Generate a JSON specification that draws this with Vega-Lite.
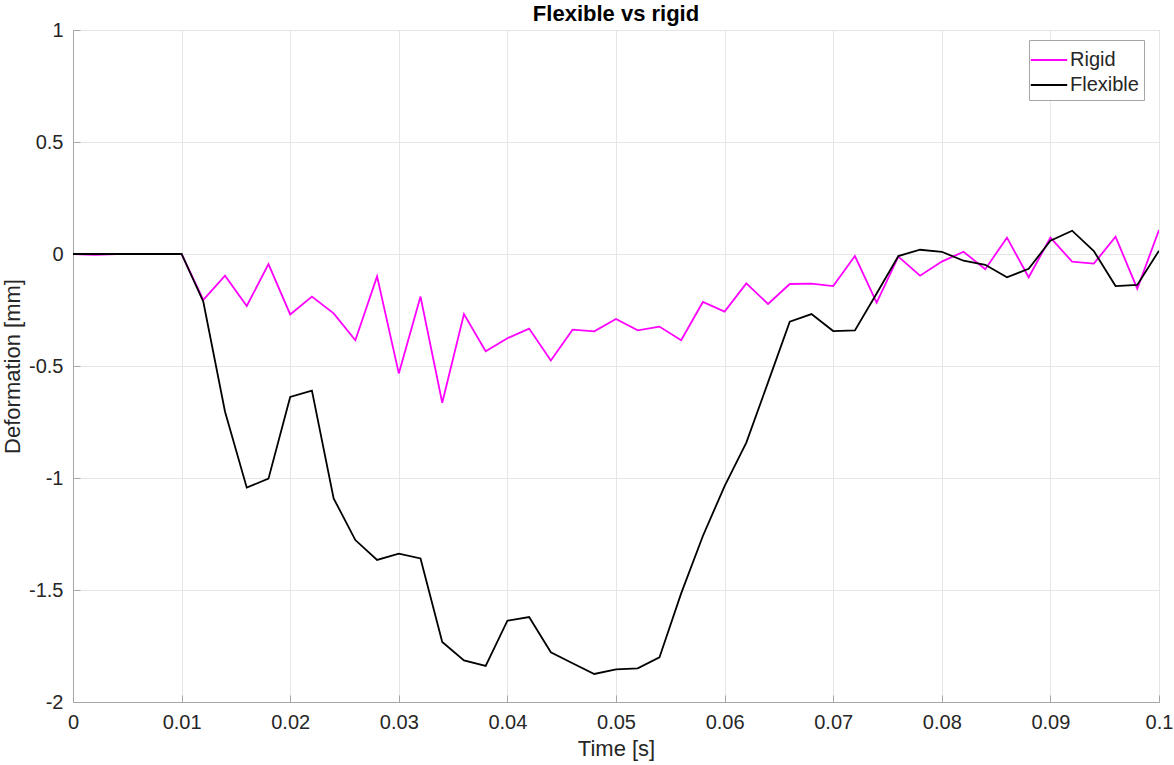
{
  "$schema": "https://vega.github.io/schema/vega-lite/v6.json",
  "width": 1086,
  "height": 672,
  "autosize": "none",
  "padding": {"left": 73, "top": 30, "right": 15, "bottom": 63},
  "background": "white",
  "config": {
    "font": "Liberation Sans",
    "view": {"stroke": "#a6a6a6", "strokeWidth": 1},
    "axis": {
      "domainColor": "#a6a6a6",
      "domainWidth": 1,
      "gridColor": "#e6e6e6",
      "gridWidth": 1,
      "tickColor": "#a6a6a6",
      "labelColor": "#262626",
      "titleColor": "#262626",
      "labelFontSize": 20,
      "titleFontSize": 22,
      "titleFontWeight": "normal",
      "labelFont": "Liberation Sans",
      "titleFont": "Liberation Sans"
    }
  },
  "title": {
    "text": "Flexible vs rigid",
    "fontSize": 22,
    "fontWeight": "bold",
    "font": "Liberation Sans",
    "color": "#000000",
    "anchor": "middle",
    "offset": -6
  },
  "data": {
    "values": [
      {"t": 0.000, "series": "Rigid", "value": 0},
      {"t": 0.002, "series": "Rigid", "value": -0.004},
      {"t": 0.004, "series": "Rigid", "value": 0},
      {"t": 0.006, "series": "Rigid", "value": 0},
      {"t": 0.008, "series": "Rigid", "value": 0},
      {"t": 0.010, "series": "Rigid", "value": 0},
      {"t": 0.012, "series": "Rigid", "value": -0.205},
      {"t": 0.014, "series": "Rigid", "value": -0.097},
      {"t": 0.016, "series": "Rigid", "value": -0.232},
      {"t": 0.018, "series": "Rigid", "value": -0.045},
      {"t": 0.020, "series": "Rigid", "value": -0.27},
      {"t": 0.022, "series": "Rigid", "value": -0.19},
      {"t": 0.024, "series": "Rigid", "value": -0.265},
      {"t": 0.026, "series": "Rigid", "value": -0.385},
      {"t": 0.028, "series": "Rigid", "value": -0.10},
      {"t": 0.030, "series": "Rigid", "value": -0.533},
      {"t": 0.032, "series": "Rigid", "value": -0.19},
      {"t": 0.034, "series": "Rigid", "value": -0.664},
      {"t": 0.036, "series": "Rigid", "value": -0.268},
      {"t": 0.038, "series": "Rigid", "value": -0.434},
      {"t": 0.040, "series": "Rigid", "value": -0.376},
      {"t": 0.042, "series": "Rigid", "value": -0.333},
      {"t": 0.044, "series": "Rigid", "value": -0.475},
      {"t": 0.046, "series": "Rigid", "value": -0.338},
      {"t": 0.048, "series": "Rigid", "value": -0.345},
      {"t": 0.050, "series": "Rigid", "value": -0.29},
      {"t": 0.052, "series": "Rigid", "value": -0.341},
      {"t": 0.054, "series": "Rigid", "value": -0.324},
      {"t": 0.056, "series": "Rigid", "value": -0.385},
      {"t": 0.058, "series": "Rigid", "value": -0.214},
      {"t": 0.060, "series": "Rigid", "value": -0.257},
      {"t": 0.062, "series": "Rigid", "value": -0.131},
      {"t": 0.064, "series": "Rigid", "value": -0.223},
      {"t": 0.066, "series": "Rigid", "value": -0.134},
      {"t": 0.068, "series": "Rigid", "value": -0.132},
      {"t": 0.070, "series": "Rigid", "value": -0.143},
      {"t": 0.072, "series": "Rigid", "value": -0.009},
      {"t": 0.074, "series": "Rigid", "value": -0.217},
      {"t": 0.076, "series": "Rigid", "value": -0.012},
      {"t": 0.078, "series": "Rigid", "value": -0.097},
      {"t": 0.080, "series": "Rigid", "value": -0.034},
      {"t": 0.082, "series": "Rigid", "value": 0.01},
      {"t": 0.084, "series": "Rigid", "value": -0.068},
      {"t": 0.086, "series": "Rigid", "value": 0.073},
      {"t": 0.088, "series": "Rigid", "value": -0.104},
      {"t": 0.090, "series": "Rigid", "value": 0.073},
      {"t": 0.092, "series": "Rigid", "value": -0.034},
      {"t": 0.094, "series": "Rigid", "value": -0.043},
      {"t": 0.096, "series": "Rigid", "value": 0.077},
      {"t": 0.098, "series": "Rigid", "value": -0.155},
      {"t": 0.100, "series": "Rigid", "value": 0.107},
      {"t": 0.000, "series": "Flexible", "value": 0},
      {"t": 0.002, "series": "Flexible", "value": 0},
      {"t": 0.004, "series": "Flexible", "value": 0},
      {"t": 0.006, "series": "Flexible", "value": 0},
      {"t": 0.008, "series": "Flexible", "value": 0},
      {"t": 0.010, "series": "Flexible", "value": 0},
      {"t": 0.012, "series": "Flexible", "value": -0.213},
      {"t": 0.014, "series": "Flexible", "value": -0.704},
      {"t": 0.016, "series": "Flexible", "value": -1.043},
      {"t": 0.018, "series": "Flexible", "value": -1.003},
      {"t": 0.020, "series": "Flexible", "value": -0.638},
      {"t": 0.022, "series": "Flexible", "value": -0.610},
      {"t": 0.024, "series": "Flexible", "value": -1.091},
      {"t": 0.026, "series": "Flexible", "value": -1.277},
      {"t": 0.028, "series": "Flexible", "value": -1.366},
      {"t": 0.030, "series": "Flexible", "value": -1.338},
      {"t": 0.032, "series": "Flexible", "value": -1.359},
      {"t": 0.034, "series": "Flexible", "value": -1.732},
      {"t": 0.036, "series": "Flexible", "value": -1.814},
      {"t": 0.038, "series": "Flexible", "value": -1.839},
      {"t": 0.040, "series": "Flexible", "value": -1.637},
      {"t": 0.042, "series": "Flexible", "value": -1.621},
      {"t": 0.044, "series": "Flexible", "value": -1.778},
      {"t": 0.046, "series": "Flexible", "value": -1.827},
      {"t": 0.048, "series": "Flexible", "value": -1.875},
      {"t": 0.050, "series": "Flexible", "value": -1.854},
      {"t": 0.052, "series": "Flexible", "value": -1.850},
      {"t": 0.054, "series": "Flexible", "value": -1.801},
      {"t": 0.056, "series": "Flexible", "value": -1.515},
      {"t": 0.058, "series": "Flexible", "value": -1.259},
      {"t": 0.060, "series": "Flexible", "value": -1.036},
      {"t": 0.062, "series": "Flexible", "value": -0.842},
      {"t": 0.064, "series": "Flexible", "value": -0.573},
      {"t": 0.066, "series": "Flexible", "value": -0.302},
      {"t": 0.068, "series": "Flexible", "value": -0.268},
      {"t": 0.070, "series": "Flexible", "value": -0.344},
      {"t": 0.072, "series": "Flexible", "value": -0.341},
      {"t": 0.074, "series": "Flexible", "value": -0.176},
      {"t": 0.076, "series": "Flexible", "value": -0.009},
      {"t": 0.078, "series": "Flexible", "value": 0.019},
      {"t": 0.080, "series": "Flexible", "value": 0.010},
      {"t": 0.082, "series": "Flexible", "value": -0.03},
      {"t": 0.084, "series": "Flexible", "value": -0.048},
      {"t": 0.086, "series": "Flexible", "value": -0.104},
      {"t": 0.088, "series": "Flexible", "value": -0.066},
      {"t": 0.090, "series": "Flexible", "value": 0.059},
      {"t": 0.092, "series": "Flexible", "value": 0.104},
      {"t": 0.094, "series": "Flexible", "value": 0.013},
      {"t": 0.096, "series": "Flexible", "value": -0.143},
      {"t": 0.098, "series": "Flexible", "value": -0.138},
      {"t": 0.100, "series": "Flexible", "value": 0.015}
    ]
  },
  "mark": {"type": "line", "strokeWidth": 1.8, "clip": true},
  "encoding": {
    "x": {
      "field": "t",
      "type": "quantitative",
      "scale": {"domain": [0, 0.1], "nice": false, "zero": false},
      "axis": {
        "title": "Time [s]",
        "values": [0, 0.01, 0.02, 0.03, 0.04, 0.05, 0.06, 0.07, 0.08, 0.09, 0.1],
        "labelExpr": "'' + datum.value",
        "tickSize": -7,
        "labelPadding": 17,
        "titlePadding": 6,
        "labelFlush": false
      }
    },
    "y": {
      "field": "value",
      "type": "quantitative",
      "scale": {"domain": [-2, 1], "nice": false, "zero": false},
      "axis": {
        "title": "Deformation [mm]",
        "values": [-2, -1.5, -1, -0.5, 0, 0.5, 1],
        "labelExpr": "'' + datum.value",
        "tickSize": -7,
        "labelPadding": 17,
        "titlePadding": 4,
        "labelFlush": false
      }
    },
    "color": {
      "field": "series",
      "type": "nominal",
      "sort": ["Rigid", "Flexible"],
      "scale": {"domain": ["Rigid", "Flexible"], "range": ["#ff00ff", "#000000"]},
      "legend": {
        "title": null,
        "orient": "none",
        "legendX": 956,
        "legendY": 10,
        "fillColor": "white",
        "strokeColor": "#a6a6a6",
        "padding": 5,
        "labelFontSize": 20,
        "labelColor": "#262626",
        "labelFont": "Liberation Sans",
        "symbolType": "M-1.3,0H1.3",
        "symbolSize": 784,
        "symbolStrokeWidth": 1.8,
        "labelOffset": 6,
        "rowPadding": 0
      }
    }
  }
}
